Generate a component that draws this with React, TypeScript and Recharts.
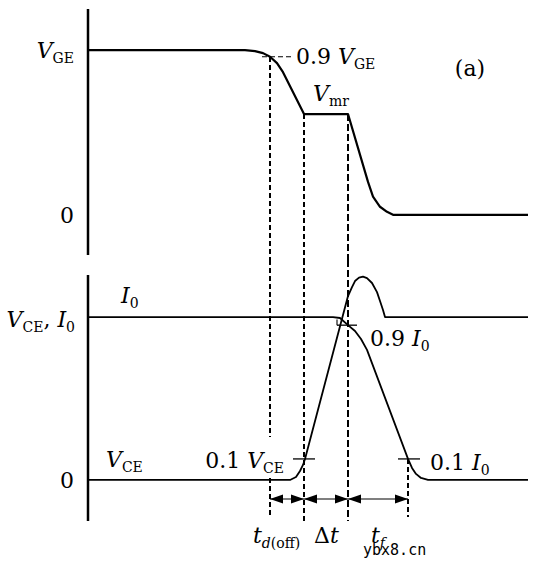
import React from 'react';
import { ComposedChart, Line, XAxis, YAxis, ReferenceLine, ReferenceDot, Scatter } from 'recharts';

const W = 542;
const H = 576;
const T_MAX = 44;

// Gate–emitter voltage V_GE (normalised: V_GE = 1)
const vgeTimes = [0, 15.7, 16.7, 17.5, 18.2, 18.9, 19.5, 21.6, 26.0, 28.0, 28.5, 29.2, 29.9, 30.5, 44];
const vgeValues = [1, 1, 0.994, 0.982, 0.96, 0.921, 0.866, 0.612, 0.612, 0.2, 0.11, 0.049, 0.018, 0, 0];

// Collector–emitter voltage V_CE (normalised)
const vceTimes = [0, 20.2, 20.8, 21.2, 21.5, 21.7, 26.0, 26.4, 26.7, 27.1, 27.5, 27.9, 28.4, 28.9, 29.2, 29.5, 29.7, 44];
const vceValues = [0, 0, 0.018, 0.055, 0.092, 0.129, 1.129, 1.184, 1.221, 1.242, 1.248, 1.239, 1.209, 1.153, 1.098, 1.043, 1.0, 1.0];

// Collector current I (normalised: I_0 = 1)
const iTimes = [0, 24.5, 25.2, 26.0, 26.7, 27.3, 27.9, 32.0, 32.4, 32.8, 33.3, 34.0, 44];
const iValues = [1, 1, 0.994, 0.95, 0.914, 0.865, 0.798, 0.129, 0.074, 0.037, 0.012, 0, 0];

// Switching instants: start of t_d(off), start of Δt, start of t_f, end of t_f
const eventTimes = [18.2, 21.6, 26.0, 32.0];
const vmrLevel = 0.612;
const vge90 = 0.96;
const level10 = 0.129;
const i90 = 0.95;

const zip = (ts: number[], vs: number[]) => ts.map((t, i) => ({ t, v: vs[i] }));
const vgeSeries = zip(vgeTimes, vgeValues);
const vceSeries = zip(vceTimes, vceValues);
const iSeries = zip(iTimes, iValues);

const ARROW_LEVEL = -0.117;
const arrowTips: { t: number; v: number; dir: number }[] = [];
for (let k = 0; k < eventTimes.length - 1; k++) {
  arrowTips.push({ t: eventTimes[k], v: ARROW_LEVEL, dir: -1 });
  arrowTips.push({ t: eventTimes[k + 1], v: ARROW_LEVEL, dir: 1 });
}

const SERIF = "'DejaVu Serif', serif";
const MAIN = 22;
const SUB = 14;
const INK = '#000';

const I = ({ children }: any) => <tspan fontStyle="italic">{children}</tspan>;
const Sub = ({ children, italic }: any) => (
  <tspan fontSize={SUB} dy={5} fontStyle={italic ? 'italic' : 'normal'}>{children}</tspan>
);
const Up = ({ children }: any) => <tspan dy={-5}>{children}</tspan>;

const mathText = (x: number, y: number, content: React.ReactNode, anchor: string = 'start') => (
  <text x={x} y={y} fontFamily={SERIF} fontSize={MAIN} fill={INK} textAnchor={anchor as any} xmlSpace="preserve">
    {content}
  </text>
);

const lbl = (key: string, t: number, v: number, content: React.ReactNode, anchor: string = 'start') => (
  <ReferenceDot
    key={key}
    x={t}
    y={v}
    r={0}
    ifOverflow="visible"
    shape={(p: any) => mathText(p.cx, p.cy, content, anchor)}
  />
);

const renderTopTick = (props: any) => {
  const { x, y, payload } = props;
  if (payload.value === 1) return mathText(x - 14, y + 8, <><I>V</I><Sub>GE</Sub></>, 'end');
  return mathText(x - 14, y + 8, '0', 'end');
};

const renderBottomTick = (props: any) => {
  const { x, y, payload } = props;
  if (payload.value === 1)
    return mathText(x - 13, y + 10, <><I>V</I><Sub>CE</Sub><Up>, </Up><I>I</I><Sub>0</Sub></>, 'end');
  return mathText(x - 14, y + 8, '0', 'end');
};

const arrowHead = (p: any) => {
  const { cx, cy, payload } = p;
  const d = payload.dir;
  return <path d={`M${cx},${cy} L${cx - d * 13},${cy - 4.5} L${cx - d * 13},${cy + 4.5} Z`} fill={INK} />;
};

const thinDash = { stroke: INK, strokeWidth: 1.2, strokeDasharray: '5 3', shapeRendering: 'crispEdges' };
const thickDash = { stroke: INK, strokeWidth: 2, strokeDasharray: '7 3', shapeRendering: 'crispEdges' };

const seg = (key: string, x1: number, y1: number, x2: number, y2: number, style: any) => (
  <ReferenceLine key={key} segment={[{ x: x1, y: y1 }, { x: x2, y: y2 }]} ifOverflow="visible" {...style} />
);

const TOP_EDGE_LOW = -0.274; // lower edge of the upper chart area
const BOTTOM_EDGE_HIGH = 1.35; // upper edge of the lower chart area

export default function App() {
  const [tA, tB, tC, tD] = eventTimes;
  return (
    <div style={{ position: 'absolute', left: 0, top: 0, width: W, height: H, background: '#fff' }}>
      <div style={{ position: 'absolute', left: 0, top: 0 }}>
        <ComposedChart width={W} height={H} margin={{ top: 9, right: 14, bottom: 321, left: 0 }}>
          <XAxis type="number" dataKey="t" domain={[0, T_MAX]} hide />
          <YAxis
            type="number"
            domain={[-0.244, 1.25]}
            ticks={[0, 1]}
            interval={0}
            width={88}
            tickLine={false}
            tickSize={0}
            tickMargin={0}
            axisLine={{ stroke: INK, strokeWidth: 2.5 }}
            tick={renderTopTick}
          />
          {seg('a1', tA, vge90, tA, TOP_EDGE_LOW, thinDash)}
          {seg('b1', tB, vmrLevel, tB, TOP_EDGE_LOW, thinDash)}
          {seg('c1', tC, vmrLevel, tC, TOP_EDGE_LOW, thickDash)}
          {seg('g90', 17.4, vge90, 20.4, vge90, { stroke: INK, strokeWidth: 1.2, strokeDasharray: '5 3' })}
          <Line data={vgeSeries} dataKey="v" type="linear" stroke={INK} strokeWidth={2.2} dot={false} isAnimationActive={false} strokeLinejoin="round" />
          {lbl('l90', 20.8, 0.916, <>0.9 <I>V</I><Sub>GE</Sub></>)}
          {lbl('lmr', 22.5, 0.691, <><I>V</I><Sub>mr</Sub></>)}
          {lbl('la', 38.2, 0.843, '(a)', 'middle')}
        </ComposedChart>
      </div>
      <div style={{ position: 'absolute', left: 0, top: 0 }}>
        <ComposedChart width={W} height={H} margin={{ top: 275, right: 14, bottom: 55, left: 0 }}>
          <XAxis type="number" dataKey="t" domain={[0, T_MAX]} hide />
          <YAxis
            type="number"
            domain={[-0.252, 1.258]}
            ticks={[0, 1]}
            interval={0}
            width={88}
            tickLine={false}
            tickSize={0}
            tickMargin={0}
            axisLine={{ stroke: INK, strokeWidth: 2.5 }}
            tick={renderBottomTick}
          />
          {seg('a2', tA, BOTTOM_EDGE_HIGH, tA, 0.264, thinDash)}
          {seg('a3', tA, 0.012, tA, -0.228, thinDash)}
          {seg('b2', tB, BOTTOM_EDGE_HIGH, tB, -0.252, thinDash)}
          {seg('c2', tC, BOTTOM_EDGE_HIGH, tC, -0.252, thickDash)}
          {seg('d2', tD, level10, tD, -0.228, thinDash)}
          {seg('v10', 20.5, level10, 22.7, level10, { stroke: INK, strokeWidth: 1.3 })}
          {seg('i10', 31.0, level10, 33.2, level10, { stroke: INK, strokeWidth: 1.3 })}
          {seg('i90', 24.9, i90, 26.9, i90, { stroke: INK, strokeWidth: 1.3 })}
          {seg('i90v', 24.9, 0.985, 24.9, i90, { stroke: INK, strokeWidth: 1.1 })}
          {eventTimes.slice(0, -1).map((t, k) =>
            seg('sh' + k, t, ARROW_LEVEL, eventTimes[k + 1], ARROW_LEVEL, { stroke: INK, strokeWidth: 1.2 })
          )}
          <Line data={iSeries} dataKey="v" type="linear" stroke={INK} strokeWidth={1.8} dot={false} isAnimationActive={false} strokeLinejoin="round" />
          <Line data={vceSeries} dataKey="v" type="linear" stroke={INK} strokeWidth={1.8} dot={false} isAnimationActive={false} strokeLinejoin="round" />
          <Scatter data={arrowTips} dataKey="v" shape={arrowHead} isAnimationActive={false} />
          {lbl('lI0', 3.3, 1.086, <><I>I</I><Sub>0</Sub></>)}
          {lbl('lVce', 1.8, 0.079, <><I>V</I><Sub>CE</Sub></>)}
          {lbl('l90i', 28.2, 0.822, <>0.9 <I>I</I><Sub>0</Sub></>)}
          {lbl('l10v', 19.6, 0.073, <>0.1 <I>V</I><Sub>CE</Sub></>, 'end')}
          {lbl('l10i', 34.2, 0.061, <>0.1 <I>I</I><Sub>0</Sub></>)}
          {lbl('ltd', 16.5, -0.387, <><I>t</I><Sub italic>d</Sub><tspan fontSize={SUB}>(off)</tspan></>)}
          {lbl('ldt', 22.6, -0.387, <>Δ<I>t</I></>)}
          {lbl('ltf', 28.3, -0.387, <><I>t</I><Sub italic>f</Sub></>)}
          <ReferenceDot
            x={27.5}
            y={-0.46}
            r={0}
            ifOverflow="visible"
            shape={(p: any) => (
              <text x={p.cx} y={p.cy} fontFamily="'DejaVu Sans Mono', monospace" fontSize={15} fill={INK}>
                ybx8.cn
              </text>
            )}
          />
        </ComposedChart>
      </div>
    </div>
  );
}
